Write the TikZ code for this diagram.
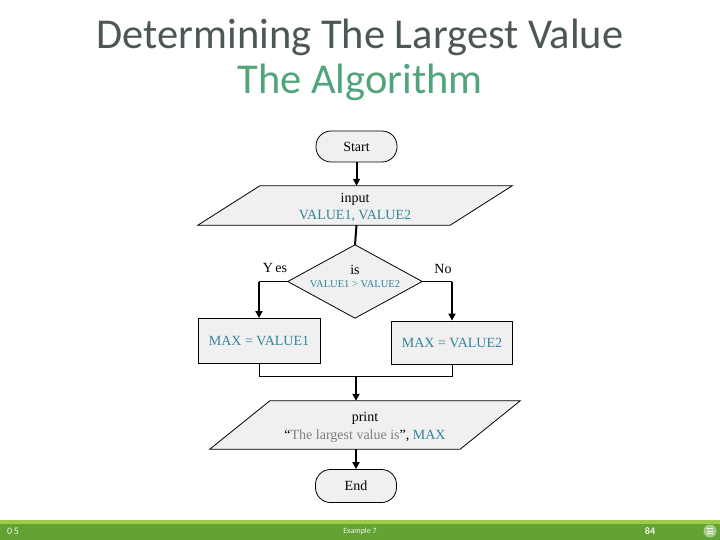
\documentclass[tikz,border=0pt]{standalone}
\usepackage{fontspec}
\setmainfont{Liberation Serif}
\newfontfamily\titlefont{Carlito}
\usetikzlibrary{arrows.meta,calc}
\definecolor{teal1}{HTML}{31859C}
\definecolor{boxfill}{HTML}{F0F0F0}
\definecolor{titlegray}{HTML}{4C5852}
\definecolor{titlegreen}{HTML}{52A47A}
\definecolor{barlight}{HTML}{9CCB4A}
\definecolor{bardark}{HTML}{62A334}
\definecolor{quotegray}{HTML}{7F7F7F}
\tikzset{
  fc/.style={font=\fontsize{14}{16}\selectfont, align=center, inner sep=0pt},
  stadium/.style={fc, draw=black, line width=0.8pt, fill=boxfill, rounded corners=15pt, minimum width=81pt, minimum height=31pt},
  procbox/.style={fc, draw=black, line width=0.8pt, fill=boxfill, minimum width=122pt, minimum height=45pt},
  ioshape/.style={fc, minimum width=190pt},
  outl/.style={draw=black, line width=0.8pt, fill=boxfill},
  thickarrow/.style={line width=2pt, -{Triangle[length=7pt,width=7pt]}},
  thinline/.style={line width=1pt},
  thickline/.style={line width=2pt},
  lbl/.style={font=\fontsize{14}{16}\selectfont, inner sep=0pt},
  foot/.style={font=\titlefont\fontsize{10}{11}\selectfont, text=white!90!bardark, inner sep=0pt}
}
\begin{document}
\begin{tikzpicture}[x=1pt,y=-1pt]
\useasboundingbox (0,0) rectangle (720,540);
% title
\node[font=\titlefont\fontsize{42.5}{46}\selectfont, text=titlegray, inner sep=0pt] (t1) at (360,37) {Determining The Largest Value};
\node[font=\titlefont\fontsize{42.5}{46}\selectfont, text=titlegreen, inner sep=0pt] (t2) at (360,82) {The Algorithm};
% flowchart
\node[stadium] (start) at (356.5,146.5) {Start};
% input
\node[ioshape, minimum height=39pt] (input) at (355,205.5) {};
\path[outl] (input.north west) -- ($(input.north east)+(62,0)$) -- (input.south east) -- ($(input.south west)+(-62,0)$) -- cycle;
\node[fc] at ($(input.center)+(0,2)$) {input\\[1pt]\textcolor{teal1}{VALUE1, VALUE2}};
% decision
\node[minimum width=134pt, minimum height=73pt, inner sep=0pt] (dec) at (355,281.5) {};
\path[outl] (dec.north) -- (dec.east) -- (dec.south) -- (dec.west) -- cycle;
\node[fc, font=\fontsize{14}{16}\selectfont] at ($(dec.center)+(0,-12)$) {is};
\node[fc, font=\fontsize{10.5}{12}\selectfont, text=teal1] at ($(dec.center)+(0,3)$) {VALUE1 > VALUE2};
\node[lbl] (yes) at (275,268) {Y\,es};
\node[lbl] (no) at (443,269) {No};
% process boxes
\node[procbox] (box1) at (259,341) {\textcolor{teal1}{MAX = VALUE1}};
\node[procbox, minimum width=121pt, minimum height=43pt] (box2) at (452,342.5) {\textcolor{teal1}{MAX = VALUE2}};
% print
\node[ioshape, minimum height=48pt] (print) at (365,425) {};
\path[outl] (print.north west) -- ($(print.north east)+(60,0)$) -- (print.south east) -- ($(print.south west)+(-60,0)$) -- cycle;
\node[fc] at ($(print.center)+(0,2)$) {print\\[2pt]“\textcolor{quotegray}{The largest value is}”, \textcolor{teal1}{MAX}};
% end
\node[stadium, minimum height=33pt] (end) at (356,486) {End};
% connectors
\draw[thickarrow] (start.south) -- (start.south |- input.north);
\draw[thickline] (start.south |- input.south) -- (dec.north);
\coordinate (ycorner) at (box1.north |- dec.west);
\coordinate (ncorner) at (box2.north |- dec.east);
\draw[thinline] (dec.west) -- (ycorner);
\draw[thickarrow] (ycorner) -- (box1.north);
\draw[thinline] (dec.east) -- (ncorner);
\draw[thickarrow] (ncorner) -- (box2.north);
\coordinate (merge) at (356,376);
\draw[thinline] (box1.south) -- (box1.south |- merge) -- (box2.south |- merge) -- (box2.south);
\draw[thickarrow] (merge) -- (merge |- print.north);
\draw[thickarrow] (merge |- print.south) -- (end.north);
% footer
\fill[barlight] (0,520) rectangle (720,524);
\fill[bardark] (0,524) rectangle (720,540);
\node[foot] (f1) at (13,531) {0\,5};
\node[foot, font=\titlefont\fontsize{8}{9}\selectfont] (f2) at (360,531) {Example 7};
\node[foot, font=\titlefont\bfseries\fontsize{10}{11}\selectfont] (f3) at (650,531) {84};
\node[circle, fill=white!45!bardark, minimum size=13pt, inner sep=0pt] (icon) at (710,531) {};
\draw[white, line width=0.8pt] ($(icon.center)+(-3,-2.5)$) -- ++(6,0) ($(icon.center)+(-3,0)$) -- ++(6,0) ($(icon.center)+(-3,2.5)$) -- ++(6,0);
\end{tikzpicture}
\end{document}
